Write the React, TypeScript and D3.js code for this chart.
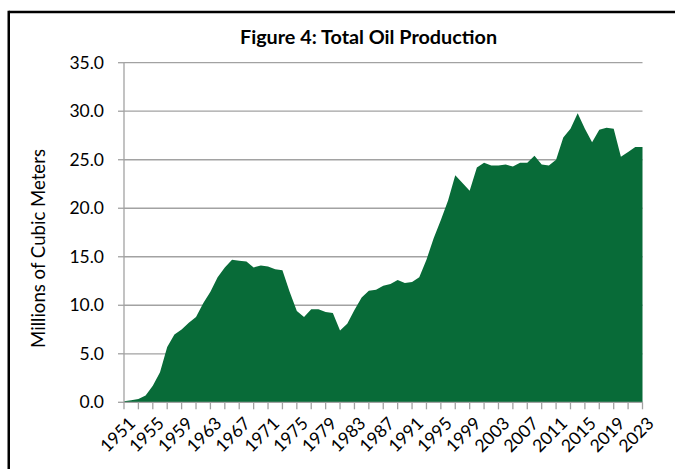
import React from "react";
import * as d3 from "d3";

const years: number[] = d3.range(1951, 2024);
const production: number[] = [
  0.1, 0.2, 0.35, 0.7, 1.7, 3.1, 5.7, 7.0, 7.5, 8.2,
  8.8, 10.2, 11.4, 12.9, 13.9, 14.7, 14.6, 14.5, 13.9, 14.1,
  14.0, 13.7, 13.6, 11.4, 9.4, 8.8, 9.6, 9.6, 9.3, 9.2,
  7.4, 8.1, 9.5, 10.8, 11.5, 11.6, 12.0, 12.2, 12.6, 12.3,
  12.4, 12.9, 14.7, 16.9, 18.8, 20.8, 23.4, 22.6, 21.8, 24.2,
  24.7, 24.4, 24.4, 24.5, 24.3, 24.7, 24.7, 25.4, 24.5, 24.4,
  25.0, 27.3, 28.2, 29.8, 28.2, 26.8, 28.1, 28.3, 28.2, 25.3,
  25.8, 26.3, 26.3,
];
const yTicks: number[] = [0, 5, 10, 15, 20, 25, 30, 35];
const tickYears: number[] = d3.range(1951, 2024, 2);
const labelYears: number[] = d3.range(1951, 2024, 4);
const title = "Figure 4: Total Oil Production";
const yTitle = "Millions of Cubic Meters";

const W = 675;
const H = 469;
const FONT = "Lato, 'Open Sans', sans-serif";

export default function App() {
  const x = d3.scaleLinear().domain([1951, 2023]).range([124, 642.5]);
  const y = d3.scaleLinear().domain([0, 35]).range([402.3, 62.7]);
  const data = years.map((yr, i) => ({ yr, v: production[i] }));
  const area = d3
    .area<{ yr: number; v: number }>()
    .x((d) => x(d.yr))
    .y0(y(0))
    .y1((d) => y(d.v));
  const grid = "#A2A2A2";
  return (
    <svg
      width={W}
      height={H}
      style={{ position: "absolute", left: 0, top: 0, background: "#fff" }}
    >
      <rect x={0} y={0} width={W} height={H} fill="#fff" />
      {/* frame */}
      <line x1={8.75} y1={12} x2={W} y2={12} stroke="#000" strokeWidth={2.5} />
      <line x1={8.75} y1={10.75} x2={8.75} y2={H} stroke="#000" strokeWidth={2.5} />
      <text
        x={368.5}
        y={44}
        textAnchor="middle"
        fontFamily={FONT}
        fontWeight="bold"
        fontSize={19.8}
        fill="#000"
      >
        {title}
      </text>
      {/* gridlines */}
      {yTicks.map((t) => (
        <line
          key={"g" + t}
          x1={x(1951)}
          x2={x(2023)}
          y1={y(t)}
          y2={y(t)}
          stroke={grid}
          strokeWidth={1.3}
        />
      ))}
      <path d={area(data) || ""} fill="#086B38" />
      {/* y axis */}
      <line x1={x(1951)} x2={x(1951)} y1={y(35)} y2={y(0)} stroke={grid} strokeWidth={1.3} />
      {yTicks.map((t) => (
        <g key={"y" + t}>
          <line x1={x(1951) - 6} x2={x(1951)} y1={y(t)} y2={y(t)} stroke={grid} strokeWidth={1.3} />
          <text
            x={104}
            y={y(t)}
            dy="0.35em"
            textAnchor="end"
            fontFamily={FONT}
            fontSize={17.5}
            fill="#000"
          >
            {t.toFixed(1)}
          </text>
        </g>
      ))}
      {/* x axis */}
      <line x1={x(1951)} x2={x(2023)} y1={y(0)} y2={y(0)} stroke={grid} strokeWidth={1.3} />
      {tickYears.map((yr) => (
        <line key={"t" + yr} x1={x(yr)} x2={x(yr)} y1={y(0)} y2={y(0) + 7} stroke={grid} strokeWidth={1.3} />
      ))}
      {labelYears.map((yr) => (
        <text
          key={"l" + yr}
          transform={`translate(${x(yr) + 8},${y(0) + 18}) rotate(-45)`}
          textAnchor="end"
          dy="0.35em"
          fontFamily={FONT}
          fontSize={17.5}
          fill="#000"
        >
          {yr}
        </text>
      ))}
      <text
        transform={`translate(45,248.5) rotate(-90)`}
        textAnchor="middle"
        fontFamily={FONT}
        fontSize={18.6}
        fill="#000"
      >
        {yTitle}
      </text>
    </svg>
  );
}
